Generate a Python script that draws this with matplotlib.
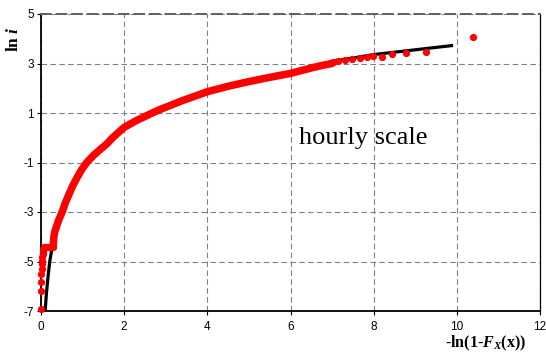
import matplotlib
matplotlib.use("Agg")
import matplotlib.pyplot as plt

plt.rcParams['axes.unicode_minus'] = False
plt.rcParams['mathtext.fontset'] = 'custom'
plt.rcParams['mathtext.rm'] = 'Liberation Serif:bold'
plt.rcParams['mathtext.it'] = 'Liberation Serif:bold:italic'
plt.rcParams['mathtext.bf'] = 'Liberation Serif:bold'

# ---- data ----
# isolated empirical points at the lowest intensities
low_x = [0.00, 0.00, 0.01, 0.01, 0.02, 0.02, 0.03, 0.03, 0.04, 0.04, 0.05]
low_y = [-6.91, -6.21, -5.81, -5.52, -5.30, -5.12, -4.96, -4.83, -4.71, -4.60, -4.50]

# plateau of tied values
plateau_x = [0.07, 0.10, 0.13, 0.16, 0.19, 0.22, 0.25, 0.28]
plateau_y = [-4.42, -4.42, -4.42, -4.42, -4.42, -4.42, -4.42, -4.42]

# dense band of empirical points
band_x = [0.29, 0.30, 0.31, 0.33, 0.37, 0.42, 0.47, 0.52, 0.58, 0.67, 0.76, 0.87,
          0.98, 1.10, 1.27, 1.44, 1.60, 1.72, 2.00, 2.30, 2.70, 2.86, 3.40, 4.00,
          4.50, 5.00, 5.50, 6.00, 6.50, 6.75, 7.00]
band_y = [-4.42, -4.20, -4.00, -3.80, -3.60, -3.35, -3.15, -2.95, -2.65, -2.30, -1.95, -1.60,
          -1.28, -1.00, -0.70, -0.45, -0.22, 0.00, 0.42, 0.70, 1.02, 1.14, 1.50, 1.86,
          2.08, 2.27, 2.44, 2.60, 2.82, 2.92, 3.00]

# sparse upper-tail points
tail_x = [7.03, 7.15, 7.31, 7.47, 7.68, 7.83, 7.99, 8.19, 8.45, 8.77, 9.27, 10.39]
tail_y = [3.05, 3.11, 3.14, 3.18, 3.23, 3.25, 3.30, 3.28, 3.38, 3.42, 3.48, 4.08]

# fitted (black) curve
fit_x = [0.10, 0.13, 0.17, 0.21, 0.25, 0.29, 0.33, 0.42, 0.52, 0.67, 0.87, 1.10,
         1.44, 1.72, 2.00, 2.30, 2.86, 4.00, 5.00, 6.00, 7.03, 8.00, 9.91]
fit_y = [-7.00, -6.30, -5.60, -5.00, -4.60, -4.30, -3.85, -3.38, -2.97, -2.32, -1.62, -1.02,
         -0.46, -0.01, 0.41, 0.69, 1.13, 1.85, 2.26, 2.60, 3.09, 3.36, 3.73]

x_ticks = [0, 2, 4, 6, 8, 10, 12]
y_ticks = [-7, -5, -3, -1, 1, 3, 5]

# ---- figure ----
W, H, DPI = 546, 354, 100
fig = plt.figure(figsize=(W / DPI, H / DPI), dpi=DPI)
ax = fig.add_axes([41 / W, 1 - 311 / H, (540 - 41) / W, (311 - 14) / H])

red = '#ff0000'
ax.plot(fit_x, fit_y, color='black', lw=2.3, zorder=3, solid_capstyle='butt')
ax.plot(band_x, band_y, color=red, lw=5.4, zorder=4, solid_capstyle='round',
        solid_joinstyle='round')
ms = 4.2
ax.plot(low_x, low_y, 'o', color=red, ms=ms, mec=red, zorder=5, clip_on=False)
ax.plot(plateau_x, plateau_y, 'o', color=red, ms=ms, mec=red, zorder=5)
ax.plot(tail_x, tail_y, 'o', color=red, ms=ms, mec=red, zorder=5)

ax.set_xlim(0, 12)
ax.set_ylim(-7, 5)
ax.set_xticks(x_ticks)
ax.set_yticks(y_ticks)
ax.set_xticklabels([str(v) for v in x_ticks], fontfamily='Liberation Sans', fontsize=8.5)
ax.set_yticklabels([str(v) for v in y_ticks], fontfamily='Liberation Sans', fontsize=8.5)
ax.tick_params(axis='both', direction='out', length=3, width=0.8, colors='black')
ax.tick_params(axis='x', pad=4)
ax.tick_params(axis='y', pad=2)

ax.grid(True, color='#808080', linestyle=(0, (5, 3)), linewidth=0.8)
ax.set_axisbelow(True)

for s in ['left', 'bottom']:
    ax.spines[s].set_linewidth(1.3)
    ax.spines[s].set_color('black')
ax.spines['right'].set_linewidth(0.9)
ax.spines['right'].set_color('black')
ax.spines['top'].set_linestyle((0, (5, 3)))
ax.spines['top'].set_color('#606060')
ax.spines['top'].set_linewidth(1.4)

ax.text(6.2, -0.25, 'hourly scale', fontfamily='Liberation Serif', fontsize=19,
        ha='left', va='baseline', color='black', zorder=6)

fig.text(14 / W, 1 - 39 / H, r'ln $i$', rotation=90, ha='center', va='center',
         fontfamily='Liberation Serif', fontweight='bold', fontsize=12.5)
fig.text(486 / W, 1 - 343 / H, r'-ln(1-$F_X$(x))', ha='center', va='center',
         fontfamily='Liberation Serif', fontweight='bold', fontsize=11.5)

fig.savefig('out.png', dpi=DPI)
